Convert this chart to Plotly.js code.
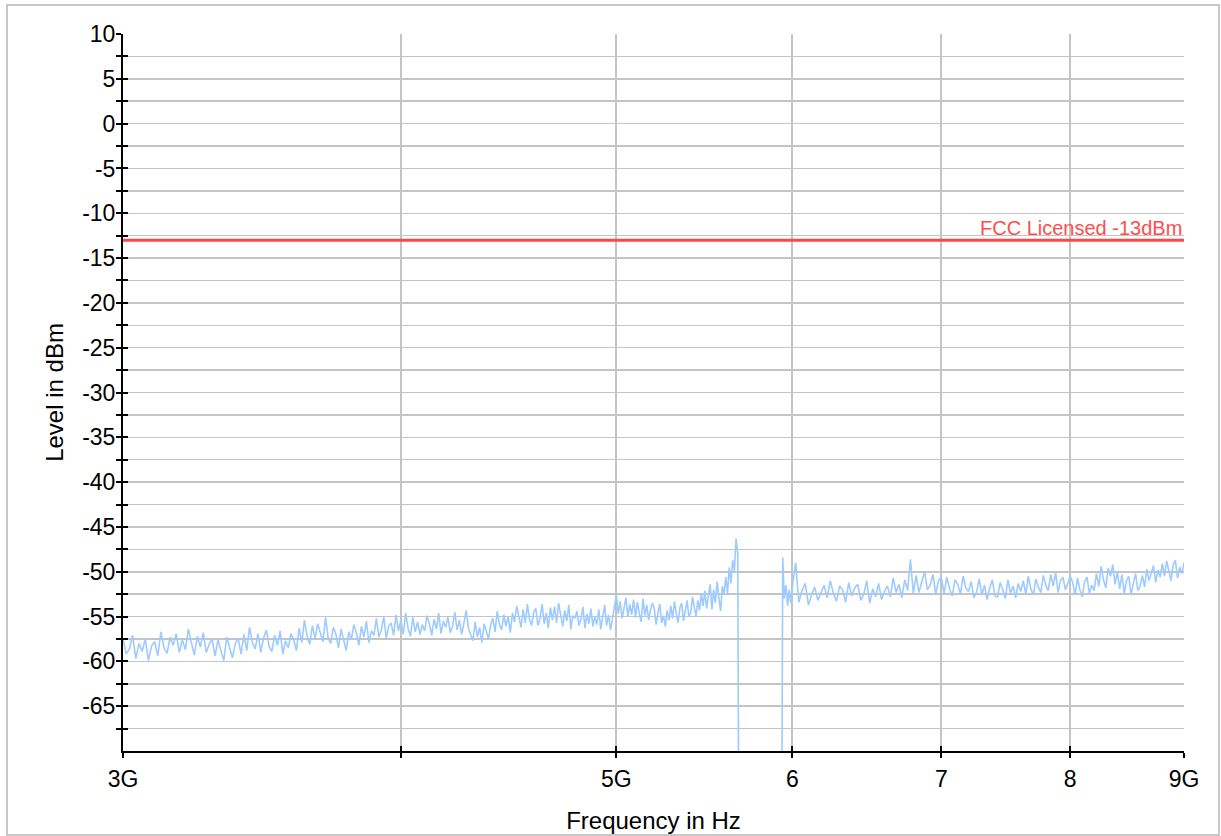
<!DOCTYPE html>
<html>
<head>
<meta charset="utf-8">
<script src="https://cdn.plot.ly/plotly-3.0.1.min.js"></script>
<style>
  html, body { margin: 0; padding: 0; background: #ffffff; }
  #wrap { position: relative; width: 1221px; height: 836px; }
  #chart { position: absolute; left: 0; top: 0; width: 1221px; height: 836px; }
  #frame { position: absolute; left: 6px; top: 4px; width: 1210px; height: 828px;
           border: 2px solid #c8c8c8; pointer-events: none; }
</style>
</head>
<body>
<div id="wrap">
  <div id="chart"></div>
  <div id="frame"></div>
</div>
<script>
// ---- Data ----
// Sweep frequencies in GHz
const freqGHz = [
3.00,3.01,3.02,3.03,3.04,3.05,3.06,3.07,3.08,3.09,
3.10,3.11,3.12,3.13,3.14,3.15,3.16,3.17,3.18,3.19,
3.20,3.21,3.22,3.23,3.24,3.25,3.26,3.27,3.28,3.29,
3.30,3.31,3.32,3.33,3.34,3.35,3.36,3.37,3.38,3.39,
3.40,3.41,3.42,3.43,3.44,3.45,3.46,3.47,3.48,3.49,
3.50,3.51,3.52,3.53,3.54,3.55,3.56,3.57,3.58,3.59,
3.60,3.61,3.62,3.63,3.64,3.65,3.66,3.67,3.68,3.69,
3.70,3.71,3.72,3.73,3.74,3.75,3.76,3.77,3.78,3.79,
3.80,3.81,3.82,3.83,3.84,3.85,3.86,3.87,3.88,3.89,
3.90,3.91,3.92,3.93,3.94,3.95,3.96,3.97,3.98,3.99,
4.00,4.01,4.02,4.03,4.04,4.05,4.06,4.07,4.08,4.09,
4.10,4.11,4.12,4.13,4.14,4.15,4.16,4.17,4.18,4.19,
4.20,4.21,4.22,4.23,4.24,4.25,4.26,4.27,4.28,4.29,
4.30,4.31,4.32,4.33,4.34,4.35,4.36,4.37,4.38,4.39,
4.40,4.41,4.42,4.43,4.44,4.45,4.46,4.47,4.48,4.49,
4.50,4.51,4.52,4.53,4.54,4.55,4.56,4.57,4.58,4.59,
4.60,4.61,4.62,4.63,4.64,4.65,4.66,4.67,4.68,4.69,
4.70,4.71,4.72,4.73,4.74,4.75,4.76,4.77,4.78,4.79,
4.80,4.81,4.82,4.83,4.84,4.85,4.86,4.87,4.88,4.89,
4.90,4.91,4.92,4.93,4.94,4.95,4.96,4.97,4.98,4.99,
5.00,5.01,5.02,5.03,5.04,5.05,5.06,5.07,5.08,5.09,
5.10,5.11,5.12,5.13,5.14,5.15,5.16,5.17,5.18,5.19,
5.20,5.21,5.22,5.23,5.24,5.25,5.26,5.27,5.28,5.29,
5.30,5.31,5.32,5.33,5.34,5.35,5.36,5.37,5.38,5.39,
5.40,5.41,5.42,5.43,5.44,5.45,5.46,5.47,5.48,5.49,
5.50,5.51,5.52,5.53,5.54,5.55,5.56,5.57,5.58,5.59,
5.60,5.61,5.62,5.63,5.64,5.65,5.66,5.67,5.68,5.69,
5.70,5.71,5.72,5.73,5.74,5.75,5.76,5.77,5.78,5.79,
5.80,5.81,5.82,5.83,5.84,5.85,5.86,5.87,5.88,5.89,
5.90,5.91,5.92,5.93,5.94,5.95,5.96,5.97,5.98,5.99,
6.00,
6.02,6.04,6.06,6.08,6.10,6.12,6.14,6.16,6.18,6.20,
6.22,6.24,6.26,6.28,6.30,6.32,6.34,6.36,6.38,6.40,
6.42,6.44,6.46,6.48,6.50,6.52,6.54,6.56,6.58,6.60,
6.62,6.64,6.66,6.68,6.70,6.72,6.74,6.76,6.78,6.80,
6.82,6.84,6.86,6.88,6.90,6.92,6.94,6.96,6.98,7.00,
7.02,7.04,7.06,7.08,7.10,7.12,7.14,7.16,7.18,7.20,
7.22,7.24,7.26,7.28,7.30,7.32,7.34,7.36,7.38,7.40,
7.42,7.44,7.46,7.48,7.50,7.52,7.54,7.56,7.58,7.60,
7.62,7.64,7.66,7.68,7.70,7.72,7.74,7.76,7.78,7.80,
7.82,7.84,7.86,7.88,7.90,7.92,7.94,7.96,7.98,8.00,
8.02,8.04,8.06,8.08,8.10,8.12,8.14,8.16,8.18,8.20,
8.22,8.24,8.26,8.28,8.30,8.32,8.34,8.36,8.38,8.40,
8.42,8.44,8.46,8.48,8.50,8.52,8.54,8.56,8.58,8.60,
8.62,8.64,8.66,8.68,8.70,8.72,8.74,8.76,8.78,8.80,
8.82,8.84,8.86,8.88,8.90,8.92,8.94,8.96,8.98,9.00
];

// Measured level in dBm (values below -70 fall under the chart floor)
const levelDbm = [
-57.4,-59.2,-58.6,-57.1,-59.7,-58.0,-58.9,-57.5,-59.9,-58.3,
-57.8,-59.4,-56.7,-58.5,-59.1,-57.3,-58.2,-56.9,-59.0,-57.6,
-58.7,-56.4,-57.9,-59.3,-57.2,-58.4,-56.8,-59.0,-58.1,-57.5,
-59.4,-57.6,-58.8,-59.9,-57.3,-58.5,-59.6,-58.0,-57.4,-59.2,
-57.0,-58.8,-56.2,-57.9,-58.6,-56.9,-59.0,-57.4,-56.5,-58.3,
-58.9,-57.1,-58.2,-56.6,-59.2,-57.7,-58.5,-56.9,-57.6,-58.8,
-56.3,-57.9,-55.4,-57.2,-58.1,-56.0,-57.5,-55.8,-56.9,-57.8,
-55.1,-57.4,-58.0,-56.2,-57.0,-58.5,-56.4,-57.7,-58.8,-56.7,
-57.6,-55.9,-56.8,-58.2,-56.1,-57.3,-55.5,-57.9,-56.6,-57.1,
-55.2,-57.3,-56.5,-55.0,-57.4,-56.1,-55.7,-57.1,-54.8,-56.6,
-55.4,-57.0,-54.6,-56.3,-57.2,-55.1,-56.7,-55.6,-57.0,-55.9,
-56.6,-54.9,-55.8,-57.1,-55.3,-56.4,-54.6,-56.9,-55.5,-56.2,
-55.0,-56.8,-56.1,-54.5,-56.5,-55.4,-57.0,-55.7,-54.3,-56.3,
-56.9,-57.7,-55.6,-57.3,-56.2,-57.9,-55.8,-56.6,-57.5,-55.9,
-55.2,-56.7,-54.4,-55.9,-56.5,-54.8,-56.1,-55.0,-56.8,-54.6,
-55.6,-53.8,-55.1,-56.2,-54.2,-55.7,-53.6,-55.3,-56.0,-54.5,
-54.1,-56.0,-55.2,-53.6,-55.8,-54.6,-56.3,-54.0,-55.4,-53.9,
-55.7,-53.5,-54.8,-56.1,-54.3,-55.5,-53.7,-56.4,-54.9,-55.2,
-54.4,-56.0,-55.3,-53.9,-56.3,-54.7,-55.8,-54.1,-56.1,-55.0,
-55.9,-54.2,-56.4,-55.0,-53.7,-56.0,-54.8,-56.5,-55.3,-54.1,
-52.6,-54.7,-53.3,-55.2,-54.0,-52.9,-55.0,-53.6,-54.8,-53.1,
-55.1,-53.4,-54.6,-55.6,-53.0,-54.9,-53.7,-55.4,-54.2,-53.5,
-54.1,-55.9,-54.6,-53.6,-55.7,-54.9,-56.1,-54.3,-55.4,-53.8,
-55.2,-53.3,-54.7,-55.7,-54.0,-53.5,-55.5,-54.4,-53.2,-55.0,
-54.6,-52.8,-53.9,-55.0,-53.2,-54.3,-52.4,-53.8,-52.1,-54.1,
-52.7,-51.4,-54.2,-52.0,-53.5,-51.1,-52.9,-54.4,-51.6,-52.5,
-50.6,-52.4,-49.5,-51.3,-48.7,-49.9,-46.3,-48.0,-100,-100,
-100,-100,-100,-100,-100,-100,-100,-100,-100,-100,
-100,-100,-100,-100,-100,-100,-100,-100,-100,-100,
-100,-100,-100,-100,-48.4,-53.0,-51.5,-53.8,-52.0,-53.5,
-51.6,
-49.0,-53.4,-52.1,-51.3,-53.7,-52.6,-51.7,-53.2,-52.4,-51.5,
-52.9,-51.0,-52.4,-53.3,-51.6,-52.0,-53.4,-51.2,-52.7,-51.8,
-51.4,-53.2,-52.5,-51.0,-53.5,-51.9,-52.8,-51.3,-53.1,-52.2,
-51.6,-52.8,-50.7,-52.3,-51.4,-52.9,-50.9,-52.1,-48.6,-52.4,
-50.4,-52.3,-51.1,-50.0,-52.0,-51.5,-50.3,-52.5,-51.0,-50.6,
-52.4,-50.6,-51.9,-52.7,-50.9,-51.4,-52.5,-50.5,-51.8,-52.2,
-51.1,-52.9,-52.3,-50.8,-52.6,-51.5,-53.1,-51.8,-50.9,-52.7,
-52.8,-51.2,-52.0,-53.0,-50.9,-52.4,-51.6,-52.9,-51.3,-52.2,
-51.0,-52.5,-50.5,-51.9,-52.6,-50.8,-51.7,-52.3,-50.4,-51.5,
-52.1,-50.3,-51.6,-50.1,-52.3,-51.0,-50.6,-52.0,-51.3,-50.5,
-51.2,-52.6,-50.7,-52.0,-52.8,-51.1,-50.6,-52.4,-51.5,-52.1,
-50.2,-51.6,-49.4,-50.9,-51.8,-49.6,-50.5,-49.2,-51.4,-50.0,
-51.9,-50.3,-52.4,-51.0,-50.5,-52.6,-51.3,-50.2,-52.1,-51.6,
-50.4,-51.7,-49.7,-51.0,-50.2,-49.3,-51.2,-49.8,-50.6,-49.1,
-50.5,-48.8,-49.9,-51.0,-49.2,-48.7,-50.7,-49.5,-50.2,-49.0
];

// Limit line
const limitDbm = -13;
const limitLabel = "FCC Licensed -13dBm";

// Axis ticks
const xTickVals = [3, 4, 5, 6, 7, 8, 9];
const xTickText = ["3G", "", "5G", "6", "7", "8", "9G"];
const yTickVals = [-65, -60, -55, -50, -45, -40, -35, -30, -25, -20, -15, -10, -5, 0, 5, 10];
const yTickText = ["-65", "-60", "-55", "-50", "-45", "-40", "-35", "-30", "-25", "-20", "-15", "-10", "-5", "0", "5", "10"];
const yMinorVals = [-67.5, -62.5, -57.5, -52.5, -47.5, -42.5, -37.5, -32.5, -27.5, -22.5, -17.5, -12.5, -7.5, -2.5, 2.5, 7.5];
const yRange = [-70, 10];

// ---- Chart ----
const fontFamily = '"Liberation Sans", Arial, Helvetica, sans-serif';
const fMin = freqGHz[0], fMax = freqGHz[freqGHz.length - 1];
const xRange = [Math.log10(fMin), Math.log10(fMax)];
const allYTicks = yTickVals.concat(yMinorVals);

const traces = [
  {
    x: freqGHz, y: levelDbm, type: 'scatter', mode: 'lines',
    line: { color: '#9dcbff', width: 1.6 },
    hoverinfo: 'x+y', showlegend: false
  },
  {
    x: [fMin, fMax], y: [limitDbm, limitDbm], type: 'scatter', mode: 'lines',
    line: { color: '#ff4646', width: 3 },
    hoverinfo: 'skip', showlegend: false
  },
  {
    x: [], y: [], xaxis: 'x2', yaxis: 'y2', type: 'scatter', mode: 'lines',
    hoverinfo: 'skip', showlegend: false
  }
];

const layout = {
  width: 1221, height: 836,
  margin: { l: 123, r: 37, t: 34, b: 85, pad: 0 },
  paper_bgcolor: '#ffffff', plot_bgcolor: '#ffffff',
  font: { family: fontFamily, size: 23, color: '#000000' },
  showlegend: false,
  xaxis: {
    type: 'log', range: xRange, fixedrange: true,
    tickmode: 'array', tickvals: xTickVals, ticktext: xTickText,
    ticks: 'outside', ticklen: 5, tickwidth: 2, tickcolor: '#000',
    ticklabelstandoff: 1,
    showline: true, linecolor: '#000', linewidth: 2,
    showgrid: true, gridcolor: '#c4c4c4', gridwidth: 2, zeroline: false,
    tickfont: { size: 23, family: fontFamily, color: '#000' },
    title: { text: 'Frequency in Hz', font: { size: 24, family: fontFamily, color: '#000' }, standoff: 22 }
  },
  yaxis: {
    range: yRange, fixedrange: true,
    tickmode: 'array', tickvals: yTickVals, ticktext: yTickText,
    ticks: 'outside', ticklen: 5, tickwidth: 2, tickcolor: '#000',
    ticklabelstandoff: -4,
    minor: { tickmode: 'array', tickvals: yMinorVals, ticks: 'outside', ticklen: 5, tickwidth: 2, tickcolor: '#000',
             showgrid: true, gridcolor: '#c4c4c4', gridwidth: 1.5 },
    showline: true, linecolor: '#000', linewidth: 2,
    showgrid: true, gridcolor: '#c4c4c4', gridwidth: 1.5, zeroline: false,
    tickfont: { size: 23, family: fontFamily, color: '#000' },
    title: { text: 'Level in dBm', font: { size: 24, family: fontFamily, color: '#000' }, standoff: 12 }
  },
  xaxis2: {
    type: 'log', range: xRange, overlaying: 'x', anchor: 'y', side: 'bottom', fixedrange: true,
    tickmode: 'array', tickvals: xTickVals, ticks: 'inside', ticklen: 5, tickwidth: 2, tickcolor: '#000',
    showticklabels: false, showgrid: false, showline: false, zeroline: false
  },
  yaxis2: {
    range: yRange, overlaying: 'y', anchor: 'x', side: 'left', fixedrange: true,
    tickmode: 'array', tickvals: allYTicks, ticks: 'inside', ticklen: 5, tickwidth: 2, tickcolor: '#000',
    showticklabels: false, showgrid: false, showline: false, zeroline: false
  },
  annotations: [
    {
      xref: 'paper', x: 1, xanchor: 'right',
      yref: 'y', y: limitDbm, yanchor: 'bottom', yshift: -1,
      text: limitLabel, showarrow: false,
      font: { size: 20, family: fontFamily, color: '#ff4d4d' }
    }
  ]
};

Plotly.newPlot('chart', traces, layout, { displayModeBar: false, staticPlot: true });
</script>
</body>
</html>
